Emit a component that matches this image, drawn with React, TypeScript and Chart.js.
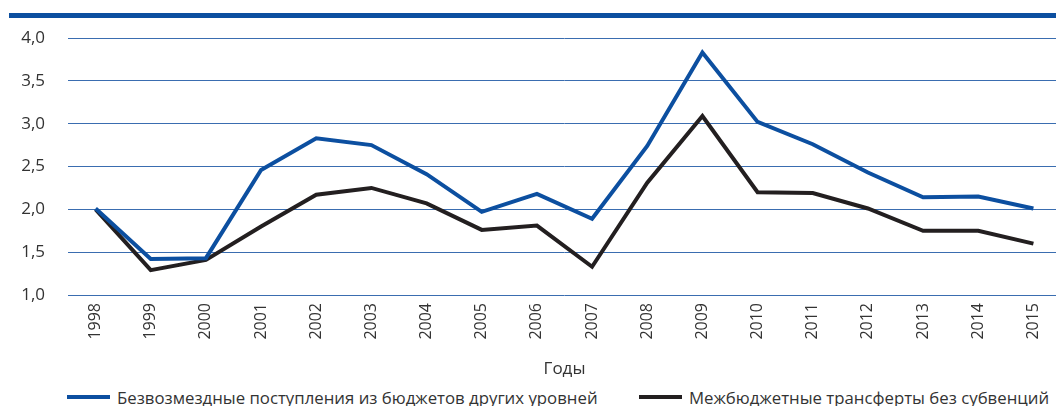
import React, { useEffect, useRef } from 'react';
import { Chart, registerables } from 'chart.js';

Chart.register(...registerables);

// ---- data ----
const years = [
  '1998', '1999', '2000', '2001', '2002', '2003', '2004', '2005', '2006',
  '2007', '2008', '2009', '2010', '2011', '2012', '2013', '2014', '2015',
];
const grantsFromOtherBudgets = [
  2.01, 1.42, 1.43, 2.46, 2.83, 2.75, 2.41, 1.97, 2.18,
  1.89, 2.74, 3.83, 3.02, 2.76, 2.43, 2.14, 2.15, 2.01,
];
const transfersWithoutSubventions = [
  2.0, 1.29, 1.41, 1.8, 2.17, 2.25, 2.07, 1.76, 1.81,
  1.33, 2.31, 3.09, 2.2, 2.19, 2.01, 1.75, 1.75, 1.6,
];
const seriesNames = [
  'Безвозмездные поступления из бюджетов других уровней',
  'Межбюджетные трансферты без субвенций',
];
const xAxisTitle = 'Годы';
const yMin = 1.0;
const yMax = 4.0;
const yStep = 0.5;

const BLUE = '#0c4fa0';
const DARK = '#231f20';
const FONT = "'Open Sans', 'Noto Sans', sans-serif";
const CANVAS_W = 1061;
const CANVAS_H = 380;

const topBar = {
  id: 'topBar',
  beforeDraw(chart: any) {
    const ctx = chart.ctx;
    ctx.save();
    ctx.fillStyle = BLUE;
    ctx.fillRect(9, 13, chart.width - 9, 5);
    ctx.restore();
  },
};

export default function App() {
  const ref = useRef<HTMLCanvasElement | null>(null);

  useEffect(() => {
    document.body.style.margin = '0';
    if (!ref.current) return;
    const chart = new Chart(ref.current, {
      type: 'line',
      data: {
        labels: years,
        datasets: [
          {
            label: seriesNames[0],
            data: grantsFromOtherBudgets,
            borderColor: BLUE,
            backgroundColor: BLUE,
            borderWidth: 4,
            pointRadius: 0,
            tension: 0,
          },
          {
            label: seriesNames[1],
            data: transfersWithoutSubventions,
            borderColor: DARK,
            backgroundColor: DARK,
            borderWidth: 4,
            pointRadius: 0,
            tension: 0,
          },
        ],
      },
      options: {
        animation: false,
        responsive: false,
        maintainAspectRatio: false,
        layout: { padding: { top: 38, left: 0, right: 0, bottom: 0 } },
        plugins: {
          legend: { display: false },
          tooltip: { enabled: false },
        },
        scales: {
          x: {
            type: 'category',
            offset: true,
            grid: { display: false, drawTicks: false },
            border: { display: false },
            ticks: {
              autoSkip: false,
              minRotation: 90,
              maxRotation: 90,
              padding: 8,
              color: '#333333',
              font: { family: FONT, size: 16 },
            },
            title: {
              display: true,
              text: xAxisTitle,
              color: '#333333',
              font: { family: FONT, size: 17 },
              padding: { top: 0, bottom: 1 },
            },
            afterFit: (s: any) => {
              s.height = CANVAS_H - 295;
            },
          },
          y: {
            min: yMin,
            max: yMax,
            grid: { color: '#3a6db0', lineWidth: 1, drawTicks: false },
            border: { display: false },
            ticks: {
              stepSize: yStep,
              padding: 23,
              color: '#333333',
              font: { family: FONT, size: 17 },
              callback: (v: any) => Number(v).toFixed(1).replace('.', ','),
            },
            afterFit: (s: any) => {
              s.width = 68;
            },
          },
        },
      },
      plugins: [topBar],
    });
    return () => chart.destroy();
  }, []);

  const legendItem = (left: number, color: string, text: string) => (
    <div
      style={{
        position: 'absolute',
        left,
        top: 386,
        height: 22,
        display: 'flex',
        alignItems: 'center',
        whiteSpace: 'nowrap',
      }}
    >
      <span style={{ display: 'inline-block', width: 43, height: 4, background: color, marginRight: 7 }} />
      <span style={{ fontFamily: FONT, fontSize: 16.8, color: '#333333' }}>{text}</span>
    </div>
  );

  return (
    <div style={{ position: 'relative', width: 1056, height: 406, overflow: 'hidden', background: '#fff' }}>
      <canvas
        ref={ref}
        width={CANVAS_W}
        height={CANVAS_H}
        style={{ position: 'absolute', left: 0, top: 0, width: CANVAS_W, height: CANVAS_H }}
      />
      {legendItem(67, BLUE, seriesNames[0])}
      {legendItem(639, DARK, seriesNames[1])}
    </div>
  );
}
